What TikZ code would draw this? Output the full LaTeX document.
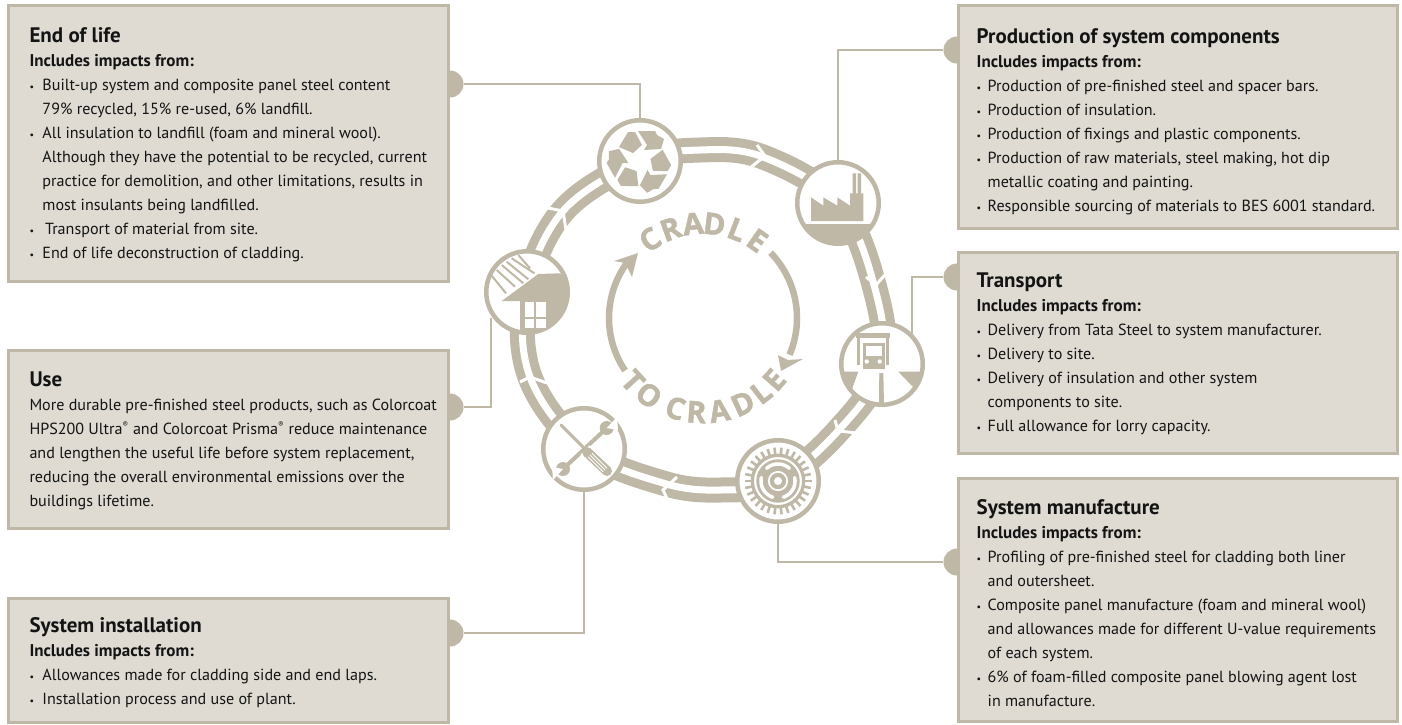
\documentclass[tikz,border=0pt]{standalone}
\usepackage{fontspec}
\setmainfont{PT Sans}
\newfontfamily\arcfont[Scale=1.2,BoldFeatures={FakeBold=1.6}]{Open Sans}
\usetikzlibrary{positioning}
\definecolor{sandc}{HTML}{BFB8A6}
\definecolor{panelc}{HTML}{DFDBD3}
\newlength{\bulw}
\setlength{\bulw}{13pt}
\newcommand{\ptitle}[1]{{\fontsize{21}{24}\selectfont\bfseries #1}}
\newcommand{\psub}{{\fontsize{17}{24}\selectfont\bfseries Includes impacts from:}}
\newcommand{\bul}{\makebox[\bulw][l]{\fontsize{10}{24}\selectfont\textbullet}}
\newcommand{\ind}{\hspace*{\bulw}}
\newcommand{\reg}{\textsuperscript{\fontsize{8}{8}\selectfont ®}}
\tikzset{
  panel/.style={draw=sandc,fill=panelc,line width=3pt,anchor=north west,minimum width=439.7pt},
  paneltext/.style={inner sep=0pt,align=left,text=black!92,font=\fontsize{16.1}{24}\selectfont},
  righttext/.style={paneltext,execute at begin node={\setlength{\bulw}{11pt}}},
  dot/.style={circle,fill=sandc,inner sep=0pt,minimum size=27pt},
  link/.style={draw=sandc,line width=2.2pt},
  hub/.style={circle,draw=sandc,fill=white,line width=4.5pt,inner sep=0pt,minimum size=81.5pt},
  band/.style={draw=white,line width=7pt,preaction={draw=sandc,line width=25pt}},
  notch/.style={draw=white,line width=3pt},
  arcletter/.style={inner sep=0pt,anchor=base,text=sandc,font=\fontsize{25}{25}\arcfont\bfseries},
}
\begin{document}
\begin{tikzpicture}[x=1pt,y=-1pt]
\useasboundingbox (0,0) rectangle (1402,724);

% ring
\draw[band] plot[smooth cycle,tension=0.6] coordinates {(640,161) (700,150) (763,157) (838,203) (874,285) (882,365) (838,431) (778,481) (720,490) (663,483) (584,449) (530,377) (526,292) (563,211)};
\draw[notch] (757,145) -- (765,156) -- (750,168);
\draw[notch] (866,277) -- (876,285) -- (892,267);
\draw[notch] (835,420) -- (838,431) -- (858,433);
\draw[notch] (677,477) -- (663,490) -- (669,503);
\draw[notch] (520,382) -- (530,377) -- (547,383);
\draw[notch] (548,208) -- (563,211) -- (566,230);

\node[hub] (recycle) at (640,161) {};
\node[hub] (factory) at (838,203) {};
\node[hub] (truck) at (882,364) {};
\node[hub] (gear) at (778,481) {};
\node[hub] (tools) at (584,449) {};
\node[hub] (house) at (527,292) {};

\node[dot] (dotend) at (450,84) {};
\node[dot] (dotuse) at (450,407) {};
\node[dot] (dotinst) at (450,633) {};
\node[dot] (dotprod) at (957,50) {};
\node[dot] (dottrans) at (957,277) {};
\node[dot] (dotmanu) at (957,562) {};

% panels
\node[panel,minimum height=275.4pt] (endlife) at (7.3,4.3) {};
\node[panel,minimum height=177.2pt] (usebox) at (7.3,349.3) {};
\node[panel,minimum height=124pt] (install) at (7.3,596.5) {};
\node[panel,minimum height=222.7pt] (prod) at (956.5,4.3) {};
\node[panel,minimum height=201.5pt] (trans) at (956.5,250.5) {};
\node[panel,minimum height=243.5pt] (manu) at (956.5,476.5) {};

\node[paneltext,right=22pt of endlife.west,yshift=-1.5pt] (endtext) {\ptitle{End of life}\\
\psub\\
\bul Built-up system and composite panel steel content\\
\ind 79\% recycled, 15\% re-used, 6\% landfill.\\
\bul All insulation to landfill (foam and mineral wool).\\
\ind Although they have the potential to be recycled, current\\
\ind practice for demolition, and other limitations, results in\\
\ind most insulants being landfilled.\\
\bul\hspace{2.5pt}Transport of material from site.\\
\bul End of life deconstruction of cladding.};

\node[paneltext,right=22pt of usebox.west,yshift=-1pt] (usetext) {\ptitle{Use}\\
More durable pre-finished steel products, such as Colorcoat\\
HPS200 Ultra\reg{} and Colorcoat Prisma\reg{} reduce maintenance\\
and lengthen the useful life before system replacement,\\
reducing the overall environmental emissions over the\\
buildings lifetime.};

\node[paneltext,right=22pt of install.west,yshift=-3pt] (insttext) {\ptitle{System installation}\\
\psub\\
\bul Allowances made for cladding side and end laps.\\
\bul Installation process and use of plant.};

\node[righttext,right=20pt of prod.west,yshift=-5pt] (prodtext) {\ptitle{Production of system components}\\
\psub\\
\bul Production of pre-finished steel and spacer bars.\\
\bul Production of insulation.\\
\bul Production of fixings and plastic components.\\
\bul Production of raw materials, steel making, hot dip\\
\ind metallic coating and painting.\\
\bul Responsible sourcing of materials to BES 6001 standard.};

\node[righttext,right=20pt of trans.west,yshift=-1.3pt] (transtext) {\ptitle{Transport}\\
\psub\\
\bul Delivery from Tata Steel to system manufacturer.\\
\bul Delivery to site.\\
\bul Delivery of insulation and other system\\
\ind components to site.\\
\bul Full allowance for lorry capacity.};

\node[righttext,right=20pt of manu.west,yshift=-3.3pt] (manutext) {\ptitle{System manufacture}\\
\psub\\
\bul Profiling of pre-finished steel for cladding both liner\\
\ind and outersheet.\\
\bul Composite panel manufacture (foam and mineral wool)\\
\ind and allowances made for different U-value requirements\\
\ind of each system.\\
\bul 6\% of foam-filled composite panel blowing agent lost\\
\ind in manufacture.};

% links
\coordinate (usejoin) at (491,318);
\coordinate (truckjoin) at (912,336);
\draw[link] (dotend.east) -| (recycle.north);
\draw[link] (dotuse.east) -| (usejoin);
\draw[link] (dotinst.east) -| (tools.south);
\draw[link] (dotprod.west) -| (factory.north);
\draw[link] (dottrans.west) -| (truckjoin);
\draw[link] (dotmanu.west) -| (gear.south);

% recycle icon
\foreach \r in {0,120,240}{
  \begin{scope}[shift={(640,161)},rotate=\r]
    \fill[sandc] (-21,-14) -- (-12,-29) -- (-5,-29) -- (2,-16) -- (-7,-8) -- cycle;
    \fill[sandc] (-2,-30) -- (15,-30) -- (17,-26) -- (24,-22) -- (21,-12) -- (4,-11) -- (7,-16) -- cycle;
  \end{scope}
}

% factory icon
\begin{scope}
  \clip (838,203) circle (41);
  \fill[sandc] (790,223.5) rectangle (890,250);
\end{scope}
\fill[sandc] (811,221) -- (811,197.3) -- (823.3,205.7) -- (823.3,197.3) -- (837.3,205.7) -- (837.3,197.3) -- (850,205.7) -- (850,193.3) -- (852.7,193.3) -- (852.7,173.3) -- (856,173.3) -- (856,193.3) -- (857.7,193.3) -- (857.7,173.3) -- (861,173.3) -- (861,193.3) -- (863.3,193.3) -- (863.3,221) -- cycle;

% house icon
\begin{scope}
  \clip (527,292) circle (41);
  \fill[sandc] (501.7,301) -- (538.3,274) -- (560,273.3) -- (575,290) -- (570,320) -- (545,335) -- (520,335) -- (520,301) -- cycle;
\end{scope}
\fill[white] (525,302.3) rectangle (534.3,317.3);
\fill[white] (536.3,302.3) rectangle (546,317.3);
\fill[white] (525,319) rectangle (534.3,328);
\fill[white] (536.3,319) rectangle (546,328);
\foreach \xa/\ya/\xb/\yb in {491.7/275.7/506/293.3,496.7/270/515/286.7,501.7/265/523.3/283.3,506.7/261.7/528.3/279.3,511.7/258.3/534.3/273.3,518.3/255/530/268.3}
  \draw[sandc,line width=2pt] (\xa,\ya) -- (\xb,\yb);

% lorry icon
\draw[sandc,line width=3pt] (858.5,365) -- (858.5,338);
\draw[sandc,line width=3pt] (887.5,336) -- (887.5,365);
\fill[sandc] (856,333) rectangle (889.5,338);
\fill[sandc] (863,343) rectangle (885,368.5);
\fill[white] (866,346) rectangle (882,356);
\fill[white] (866.7,361.5) circle (2.2);
\fill[white] (879.7,361.5) circle (2.2);
\begin{scope}
  \clip (882,364) circle (41);
  \fill[sandc] (838,371.7) -- (858.3,371.7) -- (851.7,390) -- cycle;
  \fill[sandc] (898.3,371.7) -- (925,371.7) -- (913,387) -- cycle;
  \fill[sandc] (879.3,373) -- (883.3,373) -- (884,405) -- (879,405) -- cycle;
\end{scope}

% gear icon
\draw[sandc,line width=3.3pt] (778,481) circle (25.7);
\foreach \a in {0,12,...,350}
  \draw[sandc,line width=2.6pt] ({778+26*cos(\a)},{481+26*sin(\a)}) -- ({778+33.5*cos(\a)},{481+33.5*sin(\a)});
\fill[sandc] (778,481) circle (21.7);
\foreach \a in {-90,30,150}
  \draw[white,line width=3.5pt,line cap=round,domain=\a-42:\a+42,smooth,variable=\t] plot ({778+17*cos(\t)},{481+17*sin(\t)});
\draw[white,line width=1.7pt] (778,481) circle (9.2);
\fill[white] (778,481) circle (4);

% tools icon
\draw[sandc,line width=4pt] (563,469) -- (606.7,428);
\fill[sandc] (606.7,428) circle (7);
\fill[sandc] (563,469) circle (7);
\fill[white] (606.7,428) -- (617,417) -- (618,430) -- cycle;
\fill[white] (563,469) -- (553,480) -- (552,467) -- cycle;
\draw[white,line width=5pt] (560,424) -- (583,447);
\draw[sandc,line width=3pt,line cap=round] (561,425) -- (583,447);
\draw[white,line width=13pt] (585,450) -- (609,473);
\draw[sandc,line width=10pt,line cap=round] (587,452) -- (607,471);
\foreach \o in {-2.6,0,2.6}
  \draw[white,line width=0.9pt] ({590+\o*0.7},{455-\o*0.7}) -- ({605+\o*0.7},{470-\o*0.7});

% inner arrows
\draw[sandc,line width=6.5pt,domain=146:217,smooth,variable=\a] plot ({703+94*cos(\a)},{318+94*sin(\a)});
\fill[sandc] (638,253) -- (614,261) -- (625,263) -- (632,277) -- cycle;
\draw[sandc,line width=6.5pt,domain=-44:23,smooth,variable=\a] plot ({703+94*cos(\a)},{318+94*sin(\a)});
\fill[sandc] (781,371) -- (778,355) -- (788,360) -- (803,359) -- cycle;

% arc text
\foreach \l/\a [count=\i] in {C/-124,R/-110,A/-96,D/-83,L/-69,E/-55}
  \node[arcletter,rotate={-(\a+90)}] (top\i) at ({703+84*cos(\a)},{318+84*sin(\a)}) {\l};
\foreach \l/\a [count=\i] in {T/138,O/125,C/107,R/94,A/80,D/65,L/52,E/41}
  \node[arcletter,rotate={90-\a}] (low\i) at ({703+105*cos(\a)},{318+105*sin(\a)}) {\l};
\end{tikzpicture}
\end{document}
